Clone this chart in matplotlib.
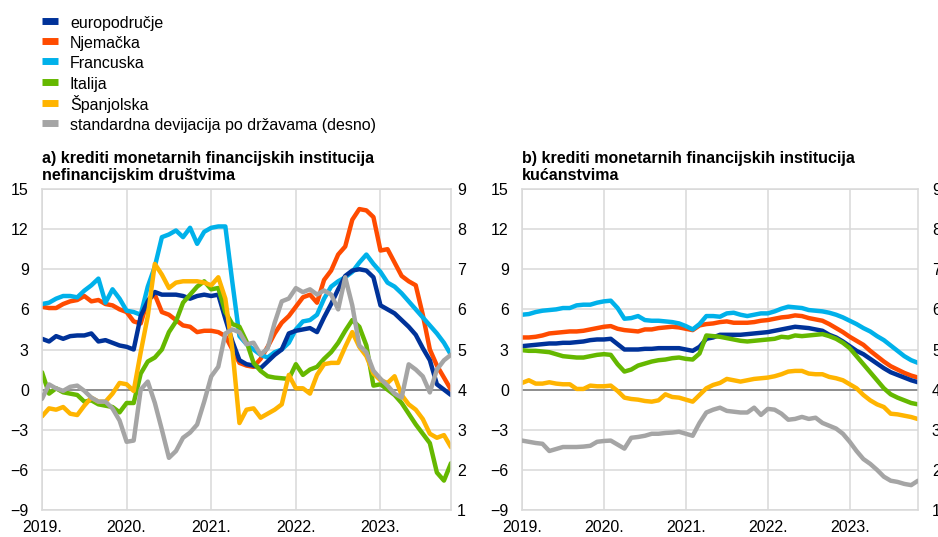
import numpy as np
import matplotlib.pyplot as plt

plt.rcParams['font.family'] = ['Liberation Sans', 'DejaVu Sans']
plt.rcParams['font.size'] = 11.5

# mjesečni podaci, sij. 2019. - stu. 2023.
mjeseci = np.arange(59)
godine = ['2019.', '2020.', '2021.', '2022.', '2023.']

nazivi = ['europodručje', 'Njemačka', 'Francuska', 'Italija', 'Španjolska',
          'standardna devijacija po državama (desno)']
boje = ['#003299', '#FF4B00', '#00B1EA', '#65B800', '#FFB400', '#A5A5A5']

# a) nefinancijska društva
eu_a = [3.8, 3.6, 4.0, 3.8, 4.0, 4.05, 4.05, 4.2, 3.6, 3.7, 3.5, 3.3, 3.2, 3.0, 5.5, 6.6,
        7.3, 7.1, 7.1, 7.1, 7.0, 6.8, 7.0, 7.1, 7.0, 7.1, 5.3, 3.6, 2.2, 1.9, 1.8, 1.6,
        2.1, 2.6, 3.0, 4.2, 4.4, 4.5, 4.6, 4.3, 5.4, 6.4, 7.5, 8.5, 8.9, 9.0, 8.9, 8.4,
        6.3, 6.0, 5.7, 5.2, 4.7, 4.1, 3.1, 2.2, 0.4, 0.0, -0.4]
de_a = [6.2, 6.1, 6.1, 6.4, 6.6, 6.7, 7.0, 6.6, 6.7, 6.4, 6.3, 6.0, 5.8, 5.1, 4.95, 6.7,
        7.1, 5.8, 5.6, 5.2, 4.8, 4.7, 4.3, 4.4, 4.4, 4.3, 4.0, 3.0, 2.0, 1.8, 1.7, 2.3,
        3.2, 4.2, 5.0, 5.5, 6.2, 6.9, 7.1, 6.5, 8.2, 8.9, 10.1, 10.7, 12.7, 13.5, 13.4, 12.9,
        10.4, 10.5, 9.5, 8.5, 8.1, 7.8, 5.6, 3.0, 1.8, 0.9, 0.0]
fr_a = [6.4, 6.5, 6.8, 7.0, 7.0, 6.9, 7.4, 7.8, 8.3, 6.5, 7.5, 6.8, 5.9, 5.8, 5.6, 7.7,
        9.2, 11.4, 11.6, 11.9, 11.4, 12.1, 10.9, 11.8, 12.1, 12.2, 12.2, 8.0, 4.0, 3.4, 3.0, 2.6,
        2.4, 2.8, 3.0, 3.5, 4.5, 5.1, 5.2, 5.6, 6.8, 7.7, 8.1, 8.4, 8.8, 9.5, 10.1, 9.4,
        8.8, 8.0, 7.7, 7.2, 6.6, 6.0, 5.4, 4.8, 4.2, 3.5, 2.6]
it_a = [1.3, -0.3, 0.1, -0.2, -0.3, -0.4, -0.9, -0.8, -1.1, -1.2, -1.3, -1.7, -1.0, -1.0, 1.2, 2.1,
        2.4, 3.0, 4.3, 5.1, 6.5, 7.1, 7.7, 8.1, 7.5, 7.6, 5.8, 4.9, 4.7, 3.6, 2.0, 1.4,
        1.0, 0.9, 0.85, 0.8, 1.9, 1.1, 1.5, 1.7, 2.3, 2.8, 3.5, 4.4, 5.2, 4.7, 3.3, 0.3,
        0.4, 0.0, -0.4, -1.0, -1.8, -2.6, -3.3, -4.0, -6.2, -6.8, -5.5]
es_a = [-2.0, -1.4, -1.5, -1.3, -1.8, -1.9, -1.2, -0.6, -0.9, -0.9, -0.3, 0.5, 0.4, -0.1, 2.8, 5.5,
        9.4, 8.6, 7.6, 8.0, 8.1, 8.1, 8.1, 8.0, 7.8, 8.4, 6.8, 3.0, -2.5, -1.5, -1.4, -2.1,
        -1.8, -1.5, -1.1, 1.1, 0.1, 0.1, -0.3, 1.1, 1.9, 2.0, 2.0, 3.2, 4.3, 3.2, 2.5, 1.2,
        0.7, 0.5, 1.0, -0.4, -1.1, -1.5, -2.2, -3.3, -3.6, -3.4, -4.3]
sd_a = [3.77, 4.13, 4.03, 3.97, 4.07, 4.10, 3.97, 3.80, 3.70, 3.70, 3.53, 3.23, 2.70, 2.73, 4.00, 4.20,
        3.67, 3.00, 2.30, 2.47, 2.80, 2.93, 3.13, 3.70, 4.33, 4.57, 5.40, 5.50, 5.43, 5.13, 5.17, 4.87,
        5.03, 5.67, 6.20, 6.27, 6.53, 6.43, 6.50, 6.37, 6.47, 6.37, 6.00, 6.80, 6.10, 5.10, 4.93, 4.47,
        4.27, 4.10, 3.90, 3.80, 4.63, 4.50, 4.33, 3.93, 4.50, 4.73, 4.87]

# b) kućanstva
eu_b = [3.25, 3.3, 3.35, 3.4, 3.45, 3.45, 3.5, 3.5, 3.55, 3.6, 3.7, 3.75, 3.75, 3.8, 3.4, 3.0,
        3.0, 3.0, 3.05, 3.05, 3.1, 3.1, 3.1, 3.1, 3.0, 2.9, 3.2, 3.8, 3.9, 4.1, 4.1, 4.1,
        4.1, 4.15, 4.2, 4.25, 4.3, 4.4, 4.5, 4.6, 4.7, 4.65, 4.6, 4.5, 4.4, 4.1, 3.9, 3.6,
        3.25, 2.9, 2.65, 2.3, 1.95, 1.6, 1.3, 1.1, 0.9, 0.7, 0.55]
de_b = [3.9, 3.9, 3.95, 4.05, 4.2, 4.25, 4.3, 4.35, 4.35, 4.4, 4.5, 4.6, 4.7, 4.75, 4.55, 4.45,
        4.4, 4.35, 4.5, 4.5, 4.6, 4.65, 4.7, 4.65, 4.55, 4.45, 4.8, 4.9, 4.95, 5.05, 5.1, 5.0,
        5.0, 5.0, 5.05, 5.15, 5.2, 5.3, 5.4, 5.45, 5.55, 5.5, 5.35, 5.25, 5.15, 4.9, 4.6, 4.3,
        3.95, 3.65, 3.35, 2.9, 2.5, 2.1, 1.75, 1.5, 1.25, 1.05, 0.9]
fr_b = [5.6, 5.65, 5.8, 5.9, 5.95, 6.0, 6.1, 6.1, 6.3, 6.35, 6.35, 6.5, 6.6, 6.65, 6.1, 5.3,
        5.35, 5.5, 5.2, 5.15, 5.15, 5.1, 5.05, 4.95, 4.75, 4.5, 4.9, 5.5, 5.5, 5.45, 5.7, 5.75,
        5.6, 5.5, 5.6, 5.7, 5.7, 5.85, 6.05, 6.2, 6.15, 6.1, 5.95, 5.9, 5.85, 5.75, 5.6, 5.4,
        5.15, 4.9, 4.6, 4.35, 4.0, 3.7, 3.3, 2.9, 2.5, 2.2, 2.0]
it_b = [2.95, 2.9, 2.9, 2.85, 2.8, 2.65, 2.5, 2.45, 2.4, 2.4, 2.5, 2.6, 2.65, 2.6, 1.9, 1.35,
        1.5, 1.8, 1.95, 2.1, 2.2, 2.25, 2.35, 2.4, 2.3, 2.25, 2.7, 4.05, 4.0, 3.95, 3.85, 3.75,
        3.65, 3.6, 3.65, 3.7, 3.75, 3.8, 3.95, 3.9, 4.05, 4.0, 4.05, 4.1, 4.15, 4.0, 3.8, 3.5,
        3.1, 2.5, 1.9, 1.3, 0.7, 0.1, -0.35, -0.6, -0.8, -1.0, -1.1]
es_b = [0.5, 0.7, 0.45, 0.45, 0.55, 0.45, 0.4, 0.4, 0.05, 0.05, 0.3, 0.25, 0.25, 0.3, -0.1, -0.6,
        -0.7, -0.75, -0.85, -0.9, -0.8, -0.35, -0.55, -0.6, -0.75, -0.9, -0.4, 0.1, 0.35, 0.5, 0.8, 0.7,
        0.6, 0.7, 0.8, 0.85, 0.9, 1.0, 1.15, 1.35, 1.4, 1.4, 1.2, 1.15, 1.15, 0.95, 0.85, 0.7,
        0.4, 0.1, -0.4, -0.8, -1.1, -1.3, -1.8, -1.85, -1.95, -2.05, -2.2]
sd_b = [2.73, 2.70, 2.67, 2.65, 2.47, 2.52, 2.57, 2.57, 2.57, 2.58, 2.60, 2.70, 2.72, 2.73, 2.63, 2.53,
        2.80, 2.82, 2.85, 2.90, 2.90, 2.92, 2.93, 2.95, 2.90, 2.85, 3.17, 3.43, 3.50, 3.55, 3.47, 3.45,
        3.43, 3.43, 3.55, 3.37, 3.52, 3.50, 3.40, 3.25, 3.27, 3.32, 3.27, 3.30, 3.17, 3.10, 3.03, 2.90,
        2.70, 2.47, 2.27, 2.15, 2.00, 1.83, 1.73, 1.70, 1.65, 1.62, 1.73]

naslovi = ['a) krediti monetarnih financijskih institucija\nnefinancijskim društvima',
           'b) krediti monetarnih financijskih institucija\nkućanstvima']
paneli = [[eu_a, de_a, fr_a, it_a, es_a, sd_a],
          [eu_b, de_b, fr_b, it_b, es_b, sd_b]]

W, H = 938, 537
fig = plt.figure(figsize=(W / 100, H / 100), dpi=100)
polozaji = [[42 / W, 27 / H, 409 / W, 321 / H], [522 / W, 27 / H, 396 / W, 321 / H]]
desni_pad = [4.5, 10]
siva = '#d9d9d9'
linije = []

for k in range(2):
    ax = fig.add_axes(polozaji[k])
    serije = paneli[k]
    for j in [1, 2, 0, 3, 4]:
        l, = ax.plot(mjeseci, serije[j], color=boje[j], lw=3.2, solid_capstyle='round')
        if k == 0:
            linije.append((j, l))
    ax.axhline(0, color='#808080', lw=1.2, zorder=1.5)
    ax.set_xlim(0, 58)
    ax.set_ylim(-9, 15)
    ax.set_yticks(range(-9, 16, 3))
    ax.set_xticks([0, 12, 24, 36, 48])
    ax.set_xticklabels(godine)
    ax.grid(True, color=siva, lw=1.1)
    ax.set_axisbelow(True)
    ax.tick_params(length=0, labelsize=11.5)
    ax.tick_params(axis='y', pad=9.5)
    ax.tick_params(axis='x', pad=7)
    for s in ax.spines.values():
        s.set_color(siva)
        s.set_linewidth(1.1)
    ax.text(0, 1 + 6 / 321, naslovi[k], transform=ax.transAxes, ha='left', va='bottom',
            fontsize=11.5, fontweight='bold', linespacing=1.15)

    ax2 = ax.twinx()
    l, = ax2.plot(mjeseci, serije[5], color=boje[5], lw=3.2, solid_capstyle='round')
    if k == 0:
        linije.append((5, l))
    ax2.set_ylim(1, 9)
    ax2.set_yticks(range(1, 10))
    ax2.tick_params(length=0, labelsize=11.5, pad=desni_pad[k])
    for s in ax2.spines.values():
        s.set_visible(False)

linije.sort(key=lambda t: t[0])
fig.legend([l for _, l in linije], nazivi, loc='upper left', bbox_to_anchor=(42 / W, 1 - 14 / H),
           frameon=False, fontsize=11.5, handlelength=1.0, handletextpad=0.75,
           handleheight=1.28, labelspacing=0.19, borderaxespad=0, borderpad=0)
leg = fig.legends[0]
for h in leg.legend_handles:
    h.set_linewidth(5)
    h.set_solid_capstyle('butt')

fig.savefig('out.png', dpi=100)
